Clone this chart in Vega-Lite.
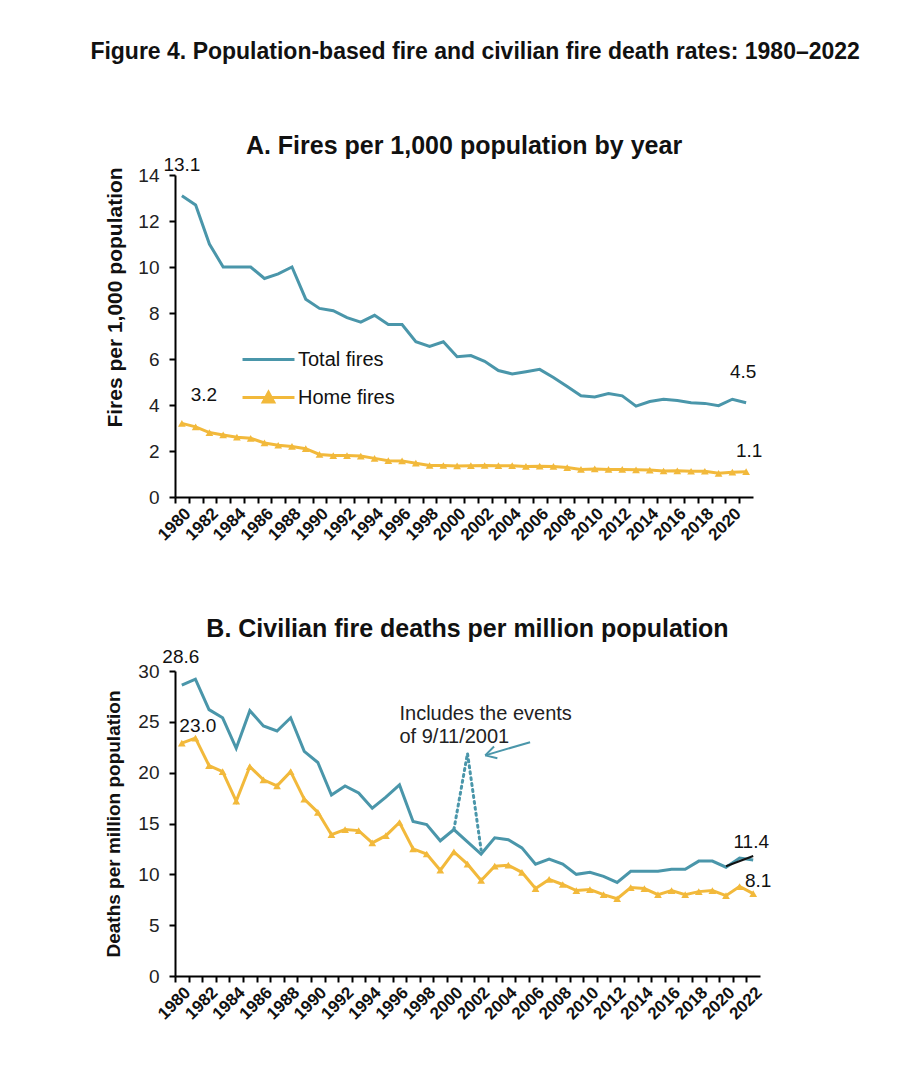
{
  "$schema": "https://vega.github.io/schema/vega-lite/v6.json",
  "background": "white",
  "padding": {"left": 90, "top": 40, "right": 10, "bottom": 5},
  "title": {"text": "Figure 4. Population-based fire and civilian fire death rates: 1980–2022", "font": "Liberation Sans", "fontSize": 23, "fontWeight": "bold", "anchor": "middle", "offset": 70, "dx": 37, "color": "#111"},
  "config": {
    "font": "Liberation Sans",
    "view": {"stroke": null},
    "axis": {"grid": false, "domainColor": "#000", "domainWidth": 2, "tickColor": "#000", "tickWidth": 2, "tickSize": 6, "labelColor": "#222", "titleColor": "#111", "labelFont": "Liberation Sans", "titleFont": "Liberation Sans"},
    "title": {"font": "Liberation Sans", "color": "#111"},
    "text": {"font": "Liberation Sans"}
  },
  "datasets": {
    "fires": [
      {"year": 1980, "series": "Total fires", "value": 13.1}, {"year": 1981, "series": "Total fires", "value": 12.7},
      {"year": 1982, "series": "Total fires", "value": 11.0}, {"year": 1983, "series": "Total fires", "value": 10.0},
      {"year": 1984, "series": "Total fires", "value": 10.0}, {"year": 1985, "series": "Total fires", "value": 10.0},
      {"year": 1986, "series": "Total fires", "value": 9.5}, {"year": 1987, "series": "Total fires", "value": 9.7},
      {"year": 1988, "series": "Total fires", "value": 10.0}, {"year": 1989, "series": "Total fires", "value": 8.6},
      {"year": 1990, "series": "Total fires", "value": 8.2}, {"year": 1991, "series": "Total fires", "value": 8.1},
      {"year": 1992, "series": "Total fires", "value": 7.8}, {"year": 1993, "series": "Total fires", "value": 7.6},
      {"year": 1994, "series": "Total fires", "value": 7.9}, {"year": 1995, "series": "Total fires", "value": 7.5},
      {"year": 1996, "series": "Total fires", "value": 7.5}, {"year": 1997, "series": "Total fires", "value": 6.75},
      {"year": 1998, "series": "Total fires", "value": 6.55}, {"year": 1999, "series": "Total fires", "value": 6.75},
      {"year": 2000, "series": "Total fires", "value": 6.1}, {"year": 2001, "series": "Total fires", "value": 6.15},
      {"year": 2002, "series": "Total fires", "value": 5.9}, {"year": 2003, "series": "Total fires", "value": 5.5},
      {"year": 2004, "series": "Total fires", "value": 5.35}, {"year": 2005, "series": "Total fires", "value": 5.45},
      {"year": 2006, "series": "Total fires", "value": 5.55}, {"year": 2007, "series": "Total fires", "value": 5.2},
      {"year": 2008, "series": "Total fires", "value": 4.8}, {"year": 2009, "series": "Total fires", "value": 4.4},
      {"year": 2010, "series": "Total fires", "value": 4.35}, {"year": 2011, "series": "Total fires", "value": 4.5},
      {"year": 2012, "series": "Total fires", "value": 4.4}, {"year": 2013, "series": "Total fires", "value": 3.95},
      {"year": 2014, "series": "Total fires", "value": 4.15}, {"year": 2015, "series": "Total fires", "value": 4.25},
      {"year": 2016, "series": "Total fires", "value": 4.2}, {"year": 2017, "series": "Total fires", "value": 4.1},
      {"year": 2018, "series": "Total fires", "value": 4.07}, {"year": 2019, "series": "Total fires", "value": 3.97},
      {"year": 2020, "series": "Total fires", "value": 4.25}, {"year": 2021, "series": "Total fires", "value": 4.1},
      {"year": 1980, "series": "Home fires", "value": 3.2}, {"year": 1981, "series": "Home fires", "value": 3.05},
      {"year": 1982, "series": "Home fires", "value": 2.8}, {"year": 1983, "series": "Home fires", "value": 2.7},
      {"year": 1984, "series": "Home fires", "value": 2.6}, {"year": 1985, "series": "Home fires", "value": 2.55},
      {"year": 1986, "series": "Home fires", "value": 2.35}, {"year": 1987, "series": "Home fires", "value": 2.25},
      {"year": 1988, "series": "Home fires", "value": 2.2}, {"year": 1989, "series": "Home fires", "value": 2.1},
      {"year": 1990, "series": "Home fires", "value": 1.85}, {"year": 1991, "series": "Home fires", "value": 1.8},
      {"year": 1992, "series": "Home fires", "value": 1.8}, {"year": 1993, "series": "Home fires", "value": 1.78},
      {"year": 1994, "series": "Home fires", "value": 1.68}, {"year": 1995, "series": "Home fires", "value": 1.58},
      {"year": 1996, "series": "Home fires", "value": 1.57}, {"year": 1997, "series": "Home fires", "value": 1.47},
      {"year": 1998, "series": "Home fires", "value": 1.37}, {"year": 1999, "series": "Home fires", "value": 1.37},
      {"year": 2000, "series": "Home fires", "value": 1.35}, {"year": 2001, "series": "Home fires", "value": 1.36},
      {"year": 2002, "series": "Home fires", "value": 1.37}, {"year": 2003, "series": "Home fires", "value": 1.36},
      {"year": 2004, "series": "Home fires", "value": 1.36}, {"year": 2005, "series": "Home fires", "value": 1.33},
      {"year": 2006, "series": "Home fires", "value": 1.34}, {"year": 2007, "series": "Home fires", "value": 1.33},
      {"year": 2008, "series": "Home fires", "value": 1.28}, {"year": 2009, "series": "Home fires", "value": 1.2},
      {"year": 2010, "series": "Home fires", "value": 1.22}, {"year": 2011, "series": "Home fires", "value": 1.2},
      {"year": 2012, "series": "Home fires", "value": 1.2}, {"year": 2013, "series": "Home fires", "value": 1.18},
      {"year": 2014, "series": "Home fires", "value": 1.17}, {"year": 2015, "series": "Home fires", "value": 1.13},
      {"year": 2016, "series": "Home fires", "value": 1.14}, {"year": 2017, "series": "Home fires", "value": 1.12},
      {"year": 2018, "series": "Home fires", "value": 1.12}, {"year": 2019, "series": "Home fires", "value": 1.03},
      {"year": 2020, "series": "Home fires", "value": 1.08}, {"year": 2021, "series": "Home fires", "value": 1.1}
    ],
    "deaths": [
      {"year": 1980, "series": "Total deaths", "value": 28.6}, {"year": 1981, "series": "Total deaths", "value": 29.2},
      {"year": 1982, "series": "Total deaths", "value": 26.2}, {"year": 1983, "series": "Total deaths", "value": 25.4},
      {"year": 1984, "series": "Total deaths", "value": 22.4}, {"year": 1985, "series": "Total deaths", "value": 26.1},
      {"year": 1986, "series": "Total deaths", "value": 24.6}, {"year": 1987, "series": "Total deaths", "value": 24.1},
      {"year": 1988, "series": "Total deaths", "value": 25.4}, {"year": 1989, "series": "Total deaths", "value": 22.1},
      {"year": 1990, "series": "Total deaths", "value": 21.0}, {"year": 1991, "series": "Total deaths", "value": 17.8},
      {"year": 1992, "series": "Total deaths", "value": 18.7}, {"year": 1993, "series": "Total deaths", "value": 18.0},
      {"year": 1994, "series": "Total deaths", "value": 16.5}, {"year": 1995, "series": "Total deaths", "value": 17.6},
      {"year": 1996, "series": "Total deaths", "value": 18.8}, {"year": 1997, "series": "Total deaths", "value": 15.2},
      {"year": 1998, "series": "Total deaths", "value": 14.9}, {"year": 1999, "series": "Total deaths", "value": 13.3},
      {"year": 2000, "series": "Total deaths", "value": 14.4}, {"year": 2001, "series": "Total deaths", "value": 13.2},
      {"year": 2002, "series": "Total deaths", "value": 12.0}, {"year": 2003, "series": "Total deaths", "value": 13.6},
      {"year": 2004, "series": "Total deaths", "value": 13.4}, {"year": 2005, "series": "Total deaths", "value": 12.6},
      {"year": 2006, "series": "Total deaths", "value": 11.0}, {"year": 2007, "series": "Total deaths", "value": 11.5},
      {"year": 2008, "series": "Total deaths", "value": 11.0}, {"year": 2009, "series": "Total deaths", "value": 10.0},
      {"year": 2010, "series": "Total deaths", "value": 10.2}, {"year": 2011, "series": "Total deaths", "value": 9.8},
      {"year": 2012, "series": "Total deaths", "value": 9.2}, {"year": 2013, "series": "Total deaths", "value": 10.3},
      {"year": 2014, "series": "Total deaths", "value": 10.3}, {"year": 2015, "series": "Total deaths", "value": 10.3},
      {"year": 2016, "series": "Total deaths", "value": 10.5}, {"year": 2017, "series": "Total deaths", "value": 10.5},
      {"year": 2018, "series": "Total deaths", "value": 11.3}, {"year": 2019, "series": "Total deaths", "value": 11.3},
      {"year": 2020, "series": "Total deaths", "value": 10.7}, {"year": 2021, "series": "Total deaths", "value": 11.6},
      {"year": 2022, "series": "Total deaths", "value": 11.4},
      {"year": 1980, "series": "Home deaths", "value": 22.9}, {"year": 1981, "series": "Home deaths", "value": 23.4},
      {"year": 1982, "series": "Home deaths", "value": 20.7}, {"year": 1983, "series": "Home deaths", "value": 20.1},
      {"year": 1984, "series": "Home deaths", "value": 17.2}, {"year": 1985, "series": "Home deaths", "value": 20.6},
      {"year": 1986, "series": "Home deaths", "value": 19.3}, {"year": 1987, "series": "Home deaths", "value": 18.7},
      {"year": 1988, "series": "Home deaths", "value": 20.1}, {"year": 1989, "series": "Home deaths", "value": 17.4},
      {"year": 1990, "series": "Home deaths", "value": 16.1}, {"year": 1991, "series": "Home deaths", "value": 13.9},
      {"year": 1992, "series": "Home deaths", "value": 14.4}, {"year": 1993, "series": "Home deaths", "value": 14.3},
      {"year": 1994, "series": "Home deaths", "value": 13.1}, {"year": 1995, "series": "Home deaths", "value": 13.8},
      {"year": 1996, "series": "Home deaths", "value": 15.1}, {"year": 1997, "series": "Home deaths", "value": 12.5},
      {"year": 1998, "series": "Home deaths", "value": 12.0}, {"year": 1999, "series": "Home deaths", "value": 10.4},
      {"year": 2000, "series": "Home deaths", "value": 12.2}, {"year": 2001, "series": "Home deaths", "value": 11.0},
      {"year": 2002, "series": "Home deaths", "value": 9.4}, {"year": 2003, "series": "Home deaths", "value": 10.8},
      {"year": 2004, "series": "Home deaths", "value": 10.9}, {"year": 2005, "series": "Home deaths", "value": 10.2},
      {"year": 2006, "series": "Home deaths", "value": 8.6}, {"year": 2007, "series": "Home deaths", "value": 9.5},
      {"year": 2008, "series": "Home deaths", "value": 9.0}, {"year": 2009, "series": "Home deaths", "value": 8.4},
      {"year": 2010, "series": "Home deaths", "value": 8.5}, {"year": 2011, "series": "Home deaths", "value": 8.0},
      {"year": 2012, "series": "Home deaths", "value": 7.6}, {"year": 2013, "series": "Home deaths", "value": 8.7},
      {"year": 2014, "series": "Home deaths", "value": 8.6}, {"year": 2015, "series": "Home deaths", "value": 8.0},
      {"year": 2016, "series": "Home deaths", "value": 8.4}, {"year": 2017, "series": "Home deaths", "value": 8.0},
      {"year": 2018, "series": "Home deaths", "value": 8.3}, {"year": 2019, "series": "Home deaths", "value": 8.4},
      {"year": 2020, "series": "Home deaths", "value": 7.9}, {"year": 2021, "series": "Home deaths", "value": 8.8},
      {"year": 2022, "series": "Home deaths", "value": 8.1}
    ],
    "spike": [
      {"year": 2000, "value": 14.4}, {"year": 2001, "value": 21.9}, {"year": 2002, "value": 12.4}
    ],
    "revision": [
      {"year": 2020, "value": 10.8}, {"year": 2022, "value": 11.8}
    ],
    "arrow": [
      {"year": 2005.6, "value": 23.0, "year2": 2002.3, "value2": 21.7}
    ],
    "note": [
      {"year": 1996.0, "value": 26.8, "label": ["Includes the events", "of 9/11/2001"]}
    ]
  },
  "resolve": {"scale": {"color": "independent", "x": "independent", "y": "independent"}},
  "spacing": 73,
  "vconcat": [
    {
      "width": 578,
      "height": 322,
      "title": {"text": "A. Fires per 1,000 population by year", "fontSize": 25, "fontWeight": "bold", "anchor": "middle", "offset": -3},
      "data": {"name": "fires"},
      "encoding": {
        "x": {"field": "year", "type": "quantitative",
          "scale": {"domain": [1979.5, 2021.5], "nice": false, "zero": false},
          "axis": {"title": null, "values": [1980,1981,1982,1983,1984,1985,1986,1987,1988,1989,1990,1991,1992,1993,1994,1995,1996,1997,1998,1999,2000,2001,2002,2003,2004,2005,2006,2007,2008,2009,2010,2011,2012,2013,2014,2015,2016,2017,2018,2019,2020,2021],
            "labelExpr": "datum.value % 2 == 0 ? datum.label : ''", "format": "d", "labelAngle": -45, "labelFontSize": 17, "labelFontWeight": "bold", "labelColor": "#111", "tickOffset": -6.88, "labelOffset": 6.88, "labelPadding": 2, "labelOverlap": false, "labelBound": false}},
        "y": {"field": "value", "type": "quantitative",
          "scale": {"domain": [0, 14], "nice": false},
          "axis": {"title": "Fires per 1,000 population", "values": [0,2,4,6,8,10,12,14], "labelFontSize": 19, "titleFontSize": 21, "titleFontWeight": "bold", "titlePadding": 12, "labelPadding": 10, "titleY": 122}}
      },
      "layer": [
        {
          "mark": {"type": "line", "strokeWidth": 3},
          "encoding": {
            "color": {"field": "series", "type": "nominal",
              "scale": {"domain": ["Total fires", "Home fires"], "range": ["#4A96AA", "#F2B93B"]},
              "legend": {"title": null, "orient": "none", "legendX": 66, "legendY": 157, "symbolSize": 2700, "symbolStrokeWidth": 3, "labelFontSize": 20, "labelColor": "#111", "labelOffset": 2, "rowPadding": -16,
                "encode": {"symbols": {"update": {
                  "shape": {"signal": "datum.value === 'Home fires' ? 'M-1,0H1M-0.2,0.17L0,-0.2L0.2,0.17Z' : 'M-1,0H1'"},
                  "fill": {"signal": "datum.value === 'Home fires' ? '#F2B93B' : 'transparent'"}
                }}}}}
          }
        },
        {
          "transform": [{"filter": "datum.series === 'Home fires'"}],
          "mark": {"type": "point", "shape": "triangle-up", "filled": true, "size": 60, "opacity": 1, "color": "#F2B93B"}
        },
        {
          "transform": [{"filter": "datum.series === 'Total fires' && datum.year === 1980"}],
          "mark": {"type": "text", "fontSize": 19, "color": "#111", "dy": -31, "dx": 0},
          "encoding": {"text": {"field": "value", "type": "quantitative", "format": ".1f"}}
        },
        {
          "transform": [{"filter": "datum.series === 'Home fires' && datum.year === 1980"}],
          "mark": {"type": "text", "fontSize": 19, "color": "#111", "dy": -28, "dx": 22},
          "encoding": {"text": {"field": "value", "type": "quantitative", "format": ".1f"}}
        },
        {
          "transform": [{"filter": "datum.series === 'Total fires' && datum.year === 2021"}],
          "mark": {"type": "text", "fontSize": 19, "color": "#111", "dy": -31, "dx": -3, "text": "4.5"}
        },
        {
          "transform": [{"filter": "datum.series === 'Home fires' && datum.year === 2021"}],
          "mark": {"type": "text", "fontSize": 19, "color": "#111", "dy": -21, "dx": 3},
          "encoding": {"text": {"field": "value", "type": "quantitative", "format": ".1f"}}
        }
      ]
    },
    {
      "width": 585,
      "height": 305,
      "title": {"text": "B. Civilian fire deaths per million population", "fontSize": 25, "fontWeight": "bold", "anchor": "middle", "offset": 6},
      "encoding": {
        "x": {"field": "year", "type": "quantitative",
          "scale": {"domain": [1979.5, 2022.5], "nice": false, "zero": false},
          "axis": {"title": null, "values": [1980,1981,1982,1983,1984,1985,1986,1987,1988,1989,1990,1991,1992,1993,1994,1995,1996,1997,1998,1999,2000,2001,2002,2003,2004,2005,2006,2007,2008,2009,2010,2011,2012,2013,2014,2015,2016,2017,2018,2019,2020,2021,2022],
            "labelExpr": "datum.value % 2 == 0 ? datum.label : ''", "format": "d", "labelAngle": -45, "labelFontSize": 17, "labelFontWeight": "bold", "labelColor": "#111", "tickOffset": -6.8, "labelOffset": 6.8, "labelPadding": 2, "labelOverlap": false, "labelBound": false}},
        "y": {"field": "value", "type": "quantitative",
          "scale": {"domain": [0, 30], "nice": false},
          "axis": {"title": "Deaths per million population", "values": [0,5,10,15,20,25,30], "labelFontSize": 19, "titleFontSize": 19, "titleFontWeight": "bold", "titlePadding": 14, "labelPadding": 10}}
      },
      "layer": [
        {
          "data": {"name": "deaths"},
          "mark": {"type": "line", "strokeWidth": 3},
          "encoding": {
            "color": {"field": "series", "type": "nominal",
              "scale": {"domain": ["Total deaths", "Home deaths"], "range": ["#4A96AA", "#F2B93B"]}, "legend": null}
          }
        },
        {
          "data": {"name": "deaths"},
          "transform": [{"filter": "datum.series === 'Home deaths'"}],
          "mark": {"type": "point", "shape": "triangle-up", "filled": true, "size": 60, "opacity": 1, "color": "#F2B93B"}
        },
        {
          "data": {"name": "spike"},
          "mark": {"type": "line", "strokeWidth": 3, "strokeDash": [2, 4], "strokeCap": "round", "color": "#4A96AA"},
          "encoding": {}
        },
        {
          "data": {"name": "revision"},
          "mark": {"type": "line", "strokeWidth": 2, "color": "#111"},
          "encoding": {}
        },
        {
          "data": {"name": "arrow"},
          "mark": {"type": "rule", "strokeWidth": 2, "color": "#4A96AA"},
          "encoding": {"x2": {"field": "year2"}, "y2": {"field": "value2"}}
        },
        {
          "data": {"name": "arrow"},
          "mark": {"type": "point", "shape": "M0,0L1,-0.55M0,0L1,0.55", "filled": false, "size": 480, "strokeWidth": 2, "angle": -16, "color": "#4A96AA", "opacity": 1},
          "encoding": {"x": {"field": "year2", "type": "quantitative"}, "y": {"field": "value2", "type": "quantitative"}}
        },
        {
          "data": {"name": "note"},
          "mark": {"type": "text", "fontSize": 20, "color": "#222", "align": "left", "baseline": "top", "lineHeight": 23},
          "encoding": {"text": {"field": "label"}}
        },
        {
          "data": {"name": "deaths"},
          "transform": [{"filter": "datum.series === 'Total deaths' && datum.year === 1980"}],
          "mark": {"type": "text", "fontSize": 19, "color": "#111", "dy": -28, "dx": -1},
          "encoding": {"text": {"field": "value", "type": "quantitative", "format": ".1f"}}
        },
        {
          "data": {"name": "deaths"},
          "transform": [{"filter": "datum.series === 'Home deaths' && datum.year === 1980"}],
          "mark": {"type": "text", "fontSize": 19, "color": "#111", "dy": -17, "dx": 16, "text": "23.0"}
        },
        {
          "data": {"name": "deaths"},
          "transform": [{"filter": "datum.series === 'Total deaths' && datum.year === 2022"}],
          "mark": {"type": "text", "fontSize": 19, "color": "#111", "dy": -18, "dx": -2},
          "encoding": {"text": {"field": "value", "type": "quantitative", "format": ".1f"}}
        },
        {
          "data": {"name": "deaths"},
          "transform": [{"filter": "datum.series === 'Home deaths' && datum.year === 2022"}],
          "mark": {"type": "text", "fontSize": 19, "color": "#111", "dy": -13, "dx": 5},
          "encoding": {"text": {"field": "value", "type": "quantitative", "format": ".1f"}}
        }
      ]
    }
  ]
}
